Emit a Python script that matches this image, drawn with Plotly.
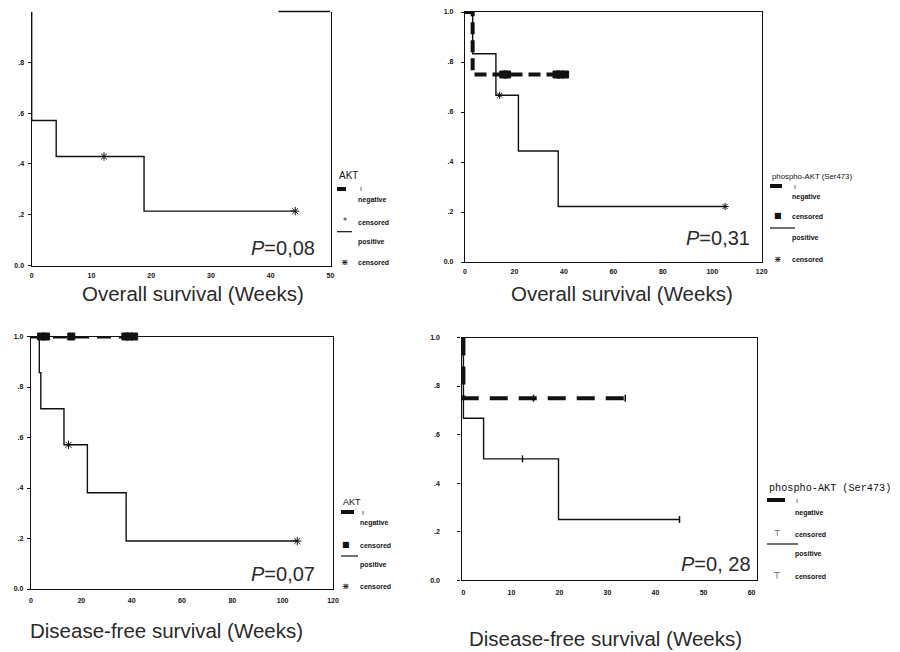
import numpy as np
import plotly.graph_objects as go

# page body has an 8px margin: draw a figure that fits inside the window
OFF = 8
W, H = 900 - OFF, 652 - OFF

# ---------------- data ----------------
# Panel 1: AKT, overall survival
p1_pos_t = [0, 0, 4.1, 18.8, 44.1]
p1_pos_s = [1.0, 0.571, 0.429, 0.214, 0.214]
p1_pos_cens = [12.1, 44.1]

# Panel 2: phospho-AKT (Ser473), overall survival
p2_neg_t = [0, 3.1, 41.0]
p2_neg_s = [1.0, 0.75, 0.75]
p2_neg_cens = [15.5, 17.0, 37.0, 38.5, 40.5]
p2_pos_t = [0, 3.1, 12.5, 21.6, 37.7, 105.2]
p2_pos_s = [1.0, 0.833, 0.667, 0.444, 0.222, 0.222]
p2_pos_cens = [14.0, 105.2]

# Panel 3: AKT, disease-free survival
p3_neg_t = [0, 42.0]
p3_neg_s = [1.0, 1.0]
p3_neg_cens = [4.0, 6.0, 16.0, 37.5, 39.0, 41.0]
p3_pos_t = [0, 3.3, 3.9, 13.1, 22.4, 37.8, 105.8]
p3_pos_s = [1.0, 0.857, 0.714, 0.571, 0.381, 0.190, 0.190]
p3_pos_cens = [14.9, 105.8]

# Panel 4: phospho-AKT (Ser473), disease-free survival
p4_neg_t = [0, 0, 34.4]
p4_neg_s = [1.0, 0.75, 0.75]
p4_neg_cens = [14.6, 33.7]
p4_pos_t = [0, 0, 4.2, 19.8, 45.0]
p4_pos_s = [1.0, 0.667, 0.5, 0.25, 0.25]
p4_pos_cens = [12.3, 45.0]

y_tickvals = [0, 0.2, 0.4, 0.6, 0.8, 1.0]
y_ticktext = ["0.0", ".2", ".4", ".6", ".8", "1.0"]
x_ticks_50 = [0, 10, 20, 30, 40, 50]
x_ticks_120 = [0, 20, 40, 60, 80, 100, 120]
x_ticks_60 = [0, 10, 20, 30, 40, 50, 60]

x_titles = ["Overall survival (Weeks)", "Overall survival (Weeks)",
            "Disease-free survival (Weeks)", "Disease-free survival (Weeks)"]
p_values = ["0,08", "0,31", "0,07", "0, 28"]
legend_titles = ["AKT", "phospho-AKT (Ser473)", "AKT", "phospho-AKT (Ser473)"]
legend_items = ["negative", "censored", "positive", "censored"]


def step_at(t, s, x):
    t = np.asarray(t, float)
    s = np.asarray(s, float)
    idx = np.searchsorted(t, np.asarray(x, float), side="right") - 1
    return s[idx]


def px(x):
    return (x - OFF) / W


def py(y):
    return 1 - (y - OFF) / H


fig = go.Figure()

# panel geometry (page pixels)
panels = [
    dict(xd=(31.7, 330.5), yd=(11.5, 265.5), xr=[0, 50], xt=x_ticks_50,
         ytv=y_tickvals[:-1], ytt=y_ticktext[:-1], ystand=2, xstand=3, mirror_x=False),
    dict(xd=(465.0, 761.7), yd=(12.0, 262.0), xr=[0, 120], xt=x_ticks_120,
         ytv=y_tickvals, ytt=y_ticktext, ystand=6, xstand=2, mirror_x=True),
    dict(xd=(31.0, 333.0), yd=(336.5, 589.0), xr=[0, 120], xt=x_ticks_120,
         ytv=y_tickvals, ytt=y_ticktext, ystand=2, xstand=4, mirror_x=True),
    dict(xd=(461.5, 757.3), yd=(337.5, 580.2), xr=[-0.4, 61.2], xt=x_ticks_60,
         ytv=y_tickvals, ytt=y_ticktext, ystand=16, xstand=5, mirror_x=True),
]

tickfont = dict(family="Liberation Sans", size=7, color="#111", weight="bold")
for i, p in enumerate(panels, start=1):
    sx = "" if i == 1 else str(i)
    fig.layout["xaxis" + sx] = dict(
        domain=[px(p["xd"][0]), px(p["xd"][1])], range=p["xr"], anchor="y" + sx,
        showline=True, linecolor="#111", linewidth=1.4, mirror=p["mirror_x"],
        showgrid=False, zeroline=False, tickvals=p["xt"], ticks="", automargin=False,
        tickfont=tickfont, ticklabelstandoff=p["xstand"], fixedrange=True)
    fig.layout["yaxis" + sx] = dict(
        domain=[py(p["yd"][1]), py(p["yd"][0])], range=[0, 1], anchor="x" + sx,
        showline=True, linecolor="#111", linewidth=1.4, mirror=True, automargin=False,
        showgrid=False, zeroline=False, tickvals=p["ytv"], ticktext=p["ytt"],
        ticks="outside", ticklen=3, tickwidth=1, tickcolor="#111",
        tickfont=tickfont, ticklabelstandoff=p["ystand"], fixedrange=True)

# partial top frame of panel 1 (the rest is cropped in the original)
fig.add_shape(type="line", xref="x", yref="y domain", x0=41.3, x1=50, y0=1, y1=1,
              line=dict(color="#111", width=1.4))

BLK = "#111"


def add_curve(ax, t, s, kind, dash=None):
    xa = "x" if ax == 1 else "x%d" % ax
    ya = "y" if ax == 1 else "y%d" % ax
    if kind == "pos":
        line = dict(color=BLK, width=1.4, shape="hv")
    else:
        line = dict(color=BLK, width=4, shape="hv", dash=dash)
    fig.add_trace(go.Scatter(x=t, y=s, mode="lines", line=line, xaxis=xa, yaxis=ya,
                             hoverinfo="skip"))


def add_cens(ax, t, s, cens, symbol, size, lw=1.0):
    xa = "x" if ax == 1 else "x%d" % ax
    ya = "y" if ax == 1 else "y%d" % ax
    fig.add_trace(go.Scatter(x=cens, y=step_at(t, s, cens), mode="markers",
                             marker=dict(symbol=symbol, size=size, color=BLK,
                                         line=dict(color=BLK, width=lw)),
                             xaxis=xa, yaxis=ya, cliponaxis=False, hoverinfo="skip"))


# panel 1
add_curve(1, p1_pos_t, p1_pos_s, "pos")
add_cens(1, p1_pos_t, p1_pos_s, p1_pos_cens, "asterisk-open", 7)
# panel 2
add_curve(2, p2_neg_t, p2_neg_s, "neg", dash="12px,6px")
add_cens(2, p2_neg_t, p2_neg_s, p2_neg_cens, "square", 7)
add_curve(2, p2_pos_t, p2_pos_s, "pos")
add_cens(2, p2_pos_t, p2_pos_s, p2_pos_cens, "asterisk-open", 6)
# panel 3
add_curve(3, p3_neg_t, p3_neg_s, "neg", dash="14px,8px")
add_cens(3, p3_neg_t, p3_neg_s, p3_neg_cens, "square", 7)
add_curve(3, p3_pos_t, p3_pos_s, "pos")
add_cens(3, p3_pos_t, p3_pos_s, p3_pos_cens, "asterisk-open", 7)
# panel 4
add_curve(4, p4_neg_t, p4_neg_s, "neg", dash="18px,11px")
add_cens(4, p4_neg_t, p4_neg_s, p4_neg_cens, "line-ns-open", 5, 1.5)
add_curve(4, p4_pos_t, p4_pos_s, "pos")
add_cens(4, p4_pos_t, p4_pos_s, p4_pos_cens, "line-ns-open", 5, 1.5)

# ---------------- text ----------------
ann = []


def text(s, x, y, size, xanchor="center", family="Liberation Sans", color="#222",
         weight="normal"):
    ann.append(dict(text=s, x=px(x), y=py(y), xref="paper", yref="paper",
                    xanchor=xanchor, yanchor="middle", showarrow=False,
                    font=dict(family=family, size=size, color=color, weight=weight)))


title_pos = [(193, 293), (622, 293), (166, 630), (605, 638)]
for t, (x, y) in zip(x_titles, title_pos):
    text(t, x, y, 20.5, color="#2a2a2a")

pval_pos = [(317, 248), (752, 238), (317, 574), (753, 564)]
for v, (x, y) in zip(p_values, pval_pos):
    text("<i>P</i>=" + v, x, y, 20, xanchor="right", color="#2a2a2a")

legs = [
    dict(x=337, ty=175, tsize=10, tfam="Liberation Sans", bx1=346, by=189, ix=361,
         tx=356, ys=[200, 222, 242, 262], symx=345, syms=["*", "⋇"], lx1=352, ly=231.7),
    dict(x=770, ty=176, tsize=7.8, tfam="Liberation Sans", bx1=782, by=186, ix=795,
         tx=790, ys=[197, 217, 238, 259], symx=778, syms=["■", "⋇"], lx1=795, ly=228),
    dict(x=341, ty=502, tsize=9, tfam="Liberation Sans", bx1=354, by=512, ix=363,
         tx=358, ys=[523, 545, 565, 586], symx=346, syms=["■", "⋇"], lx1=358, ly=556),
    dict(x=767, ty=488, tsize=10.2, tfam="Liberation Mono", bx1=785, by=500, ix=797,
         tx=793, ys=[513, 534, 554, 576], symx=777, syms=["⊤", "⊤"], lx1=798, ly=544),
]
for L, ttl in zip(legs, legend_titles):
    text(ttl, L["x"], L["ty"], L["tsize"], xanchor="left", family=L["tfam"], color="#111")
    fig.add_shape(type="line", xref="paper", yref="paper", x0=px(L["x"]), x1=px(L["bx1"]),
                  y0=py(L["by"]), y1=py(L["by"]), line=dict(color="#111", width=4))
    text("ı", L["ix"], L["by"], 7, color="#111")
    fig.add_shape(type="line", xref="paper", yref="paper", x0=px(L["x"]), x1=px(L["lx1"]),
                  y0=py(L["ly"]), y1=py(L["ly"]), line=dict(color="#111", width=1.2))
    for item, y in zip(legend_items, L["ys"]):
        text(item, L["tx"], y, 7, xanchor="left", color="#111", weight="bold")
    text(L["syms"][0], L["symx"], L["ys"][1] - 1, 8, family="DejaVu Sans", color="#111")
    text(L["syms"][1], L["symx"], L["ys"][3], 9, family="DejaVu Sans", color="#111")

fig.update_layout(width=W, height=H, margin=dict(l=0, r=0, t=0, b=0),
                  paper_bgcolor="white", plot_bgcolor="white", showlegend=False,
                  annotations=ann)

fig.write_html("out.html")
